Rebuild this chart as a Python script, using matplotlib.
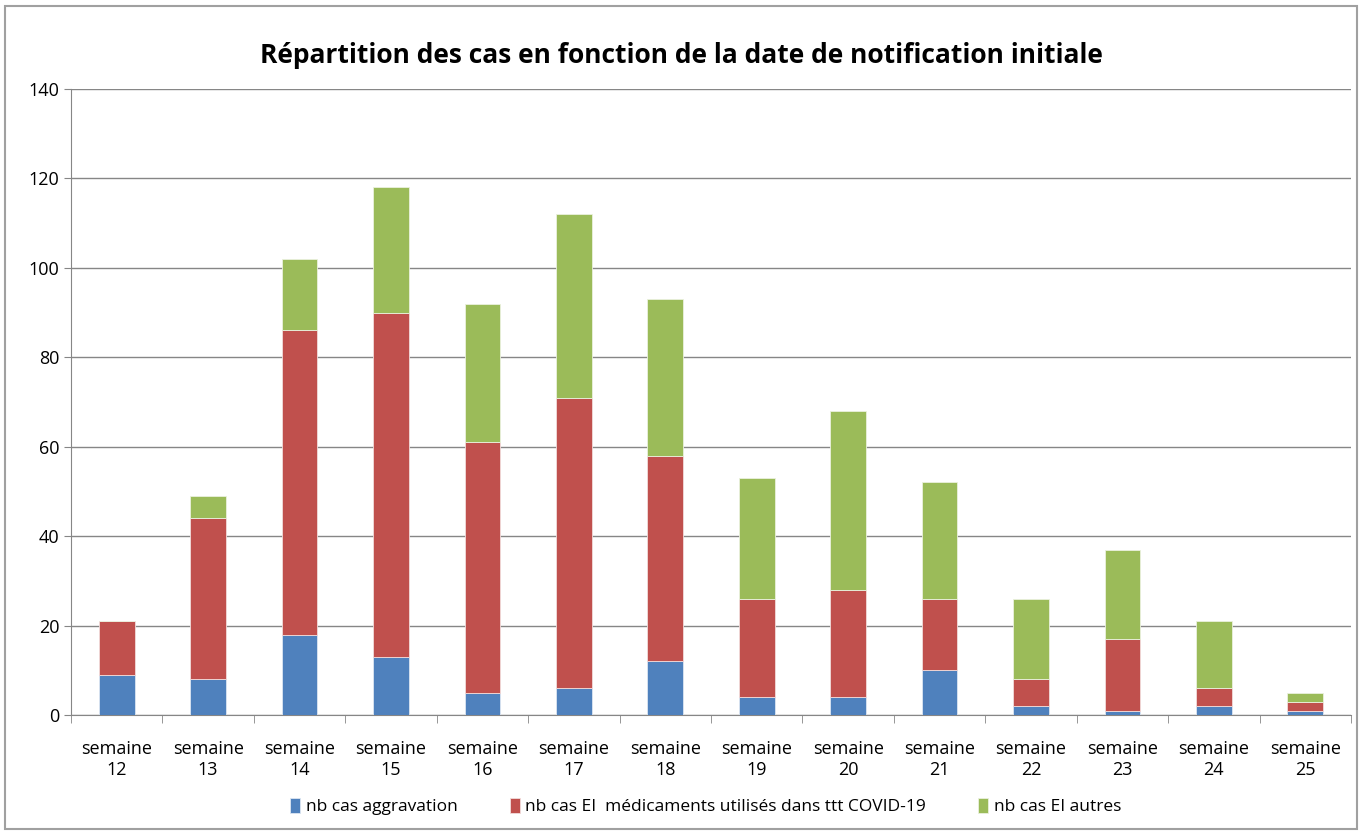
import numpy as np
import matplotlib
matplotlib.use("Agg")
import matplotlib.pyplot as plt

plt.rcParams['font.family'] = ['Liberation Sans Narrow', 'Open Sans', 'DejaVu Sans']

semaines = ["semaine\n12", "semaine\n13", "semaine\n14", "semaine\n15", "semaine\n16",
            "semaine\n17", "semaine\n18", "semaine\n19", "semaine\n20", "semaine\n21",
            "semaine\n22", "semaine\n23", "semaine\n24", "semaine\n25"]
aggravation = [9, 8, 18, 13, 5, 6, 12, 4, 4, 10, 2, 1, 2, 1]
medicaments = [12, 36, 68, 77, 56, 65, 46, 22, 24, 16, 6, 16, 4, 2]
autres = [0, 5, 16, 28, 31, 41, 35, 27, 40, 26, 18, 20, 15, 2]

fig = plt.figure(figsize=(13.62, 8.31), dpi=100)
ax = fig.add_axes([71 / 1362, 1 - 715 / 831, (1351 - 71) / 1362, (715 - 89) / 831])

x = np.arange(len(semaines))
w = 0.39
bas2 = np.array(aggravation)
bas3 = bas2 + np.array(medicaments)
ax.bar(x, aggravation, w, color='#4f81bd', edgecolor='#dce6f2', linewidth=0.6,
       label='nb cas aggravation', zorder=3)
ax.bar(x, medicaments, w, bottom=bas2, color='#c0504d', edgecolor='#f2dcdb', linewidth=0.6,
       label='nb cas EI  médicaments utilisés dans ttt COVID-19', zorder=3)
ax.bar(x, autres, w, bottom=bas3, color='#9bbb59', edgecolor='#ebf1de', linewidth=0.6,
       label='nb cas EI autres', zorder=3)

ax.set_xlim(-0.5, len(semaines) - 0.5)
ax.set_ylim(0, 140)
ax.set_yticks(range(0, 141, 20))
ax.tick_params(axis='y', labelsize=13, length=5, color='#868686')
ax.yaxis.grid(True, color='#868686', linewidth=1, zorder=0)
ax.set_xticks(x)
ax.set_xticklabels(semaines, fontsize=13)
ax.tick_params(axis='x', length=0, pad=18)
ax.set_xticks(np.arange(-0.5, len(semaines), 1), minor=True)
ax.tick_params(axis='x', which='minor', length=6, color='#868686')
for s in ['top', 'right']:
    ax.spines[s].set_visible(False)
for s in ['left', 'bottom']:
    ax.spines[s].set_color('#868686')

fig.suptitle('Répartition des cas en fonction de la date de notification initiale',
             y=0.95, fontsize=19, fontweight='bold')
fig.legend(loc='lower center', bbox_to_anchor=(0.518, 0.0), ncol=3, frameon=False,
           fontsize=12.5, handlelength=0.6, handleheight=0.9, columnspacing=3.0, handletextpad=0.3)

fig.patches.append(plt.Rectangle((0.004, 0.003), 0.992, 0.99, transform=fig.transFigure,
                                 fill=False, edgecolor='#a0a0a0', linewidth=1.5))
fig.savefig('out.png', dpi=100)
